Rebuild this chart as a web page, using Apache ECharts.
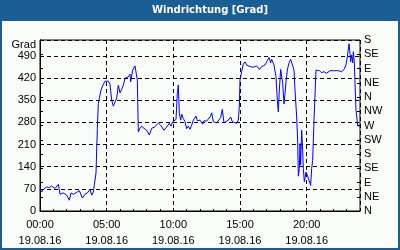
<!DOCTYPE html>
<html><head><meta charset="utf-8">
<script src="https://cdn.jsdelivr.net/npm/echarts@6/dist/echarts.min.js"></script>
<style>html,body{margin:0;padding:0;background:#1b5e95;}#c{width:400px;height:250px;}</style>
</head><body><div id="c"></div>
<script>
// time in hours (19.08.16), wind direction in degrees
const hours = [0,0.125,0.25,0.5,0.7,0.875,1.0,1.125,1.25,1.375,1.5,1.625,1.75,1.875,2.0,2.2,2.325,2.5,2.75,2.95,3.175,3.375,3.55,3.75,3.875,4.0,4.125,4.2,4.3,4.375,4.45,4.575,4.75,4.875,5.125,5.25,5.375,5.5,5.625,5.75,5.875,6.0,6.125,6.25,6.375,6.5,6.625,6.75,6.8,6.95,7.125,7.25,7.3,7.375,7.5,7.625,7.8,8.0,8.2,8.375,8.625,8.875,9.05,9.3,9.55,9.7,9.825,9.95,10.075,10.2,10.3,10.375,10.45,10.55,10.625,10.75,10.875,11.0,11.125,11.25,11.375,11.5,11.7,11.8,12.0,12.2,12.3,12.5,12.625,12.8,12.875,13.0,13.25,13.375,13.55,13.675,13.8,13.95,14.125,14.3,14.425,14.55,14.75,14.875,14.95,15.0,15.125,15.25,15.375,15.5,15.75,16.0,16.25,16.45,16.625,16.875,17.05,17.175,17.3,17.375,17.55,17.7,17.8,17.875,17.95,18.05,18.125,18.2,18.3,18.375,18.45,18.55,18.675,18.8,18.95,19.05,19.125,19.25,19.325,19.375,19.45,19.5,19.55,19.625,19.7,19.75,19.825,19.95,20.05,20.125,20.2,20.3,20.375,20.45,20.55,20.7,20.8,20.95,21.125,21.3,21.5,21.75,22.0,22.375,22.625,22.8,22.95,23.05,23.175,23.25,23.3,23.375,23.45,23.5,23.575,23.625,23.7,23.825,23.95];
const degrees = [71,60,68,76,74,79,74,71,74,84,53,55,57,53,50,34,57,53,59,64,41,53,57,68,50,60,55,120,260,340,356,382,400,410,410,400,350,331,344,356,397,373,384,397,419,416,424,432,408,445,458,464,413,250,261,268,261,255,240,261,266,278,271,255,268,277,268,282,282,289,371,398,308,287,306,292,282,260,268,258,271,287,300,285,287,274,285,284,289,300,310,282,278,280,295,321,278,275,287,297,282,277,277,287,329,414,440,464,471,461,456,454,458,447,456,461,475,485,468,479,461,424,348,313,382,447,447,403,338,371,408,445,468,479,477,445,382,297,224,110,134,213,145,255,192,134,92,123,113,118,108,81,134,160,287,445,440,443,437,440,435,443,443,443,440,447,461,487,528,498,471,493,468,503,471,403,319,271,266];
const timeTicks = [0,5,10,15,20];
const dateLabel = '19.08.16';
const leftTicks = [0,70,140,210,280,350,420,490];
const compassLabels = ['N','NE','E','SE','S','SW','W','NW','N','NE','E','SE','S'];

const chart = echarts.init(document.getElementById('c'), null, {renderer:'canvas'});
const font = 'Liberation Sans';
const txt = '#000';
const dash = [4,3];
chart.setOption({
  backgroundColor: '#1b5e95',
  animation: false,
  title: {
    text: 'Windrichtung [Grad]', left: 152, top: 4, padding: 0,
    textStyle: {color:'#fff', fontFamily:'DejaVu Sans', fontWeight:'bold', fontSize:10, lineHeight:12}
  },
  graphic: [{type:'rect', silent:true, z:-10, shape:{x:2,y:21,width:396,height:227}, style:{fill:'#f9fcf9'}}],
  grid: {left:40, right:40, top:40, bottom:39, show:true, borderColor:'#000', borderWidth:1, backgroundColor:'transparent'},
  xAxis: [{
    type:'value', min:0, max:24, interval:1, position:'bottom',
    axisLine:{show:true, lineStyle:{color:'#000', width:1}},
    axisTick:{show:true, inside:true, length:2, lineStyle:{color:'#000'}},
    axisLabel:{
      margin:6, color:txt, fontFamily:font, fontSize:11, lineHeight:16,
      formatter: v => timeTicks.includes(v) ? String(v).padStart(2,'0') + ':00\n' + dateLabel : ''
    },
    splitLine:{show:false}
  },{
    type:'value', min:0, max:24, interval:5, position:'bottom',
    axisLine:{show:false}, axisTick:{show:false}, axisLabel:{show:false},
    splitLine:{show:true, lineStyle:{color:'#000', width:1, type:dash}}
  }],
  yAxis: [{
    type:'value', min:0, max:540, interval:70, position:'left',
    name:'Grad', nameLocation:'end', nameGap:-6,
    nameTextStyle:{color:txt, fontFamily:font, fontSize:11, align:'right', verticalAlign:'middle', padding:[0,4,0,0]},
    axisLine:{show:true, lineStyle:{color:'#000'}},
    axisTick:{show:false},
    axisLabel:{margin:4, color:txt, fontFamily:font, fontSize:11, formatter: v => leftTicks.includes(v) ? String(v) : ''},
    splitLine:{show:true, lineStyle:{color:'#000', width:1, type:dash}}
  },{
    type:'value', min:0, max:540, interval:45, position:'right',
    axisLine:{show:true, lineStyle:{color:'#000'}},
    axisTick:{show:true, length:3, lineStyle:{color:'#000'}},
    axisLabel:{margin:4, color:txt, fontFamily:font, fontSize:11, formatter: v => compassLabels[Math.round(v/45)] || ''},
    splitLine:{show:false}
  },{
    type:'value', min:0, max:540, interval:45, position:'right',
    axisLine:{show:false},
    axisTick:{show:true, inside:true, length:3, lineStyle:{color:'#000'}},
    axisLabel:{show:false}, splitLine:{show:false}
  }],
  series: [{
    type:'line', xAxisIndex:0, yAxisIndex:0, showSymbol:false, symbol:'none',
    lineStyle:{color:'#0000ff', width:1}, z:5,
    data: hours.map((h,i) => [h, degrees[i]])
  }]
});
</script></body></html>
